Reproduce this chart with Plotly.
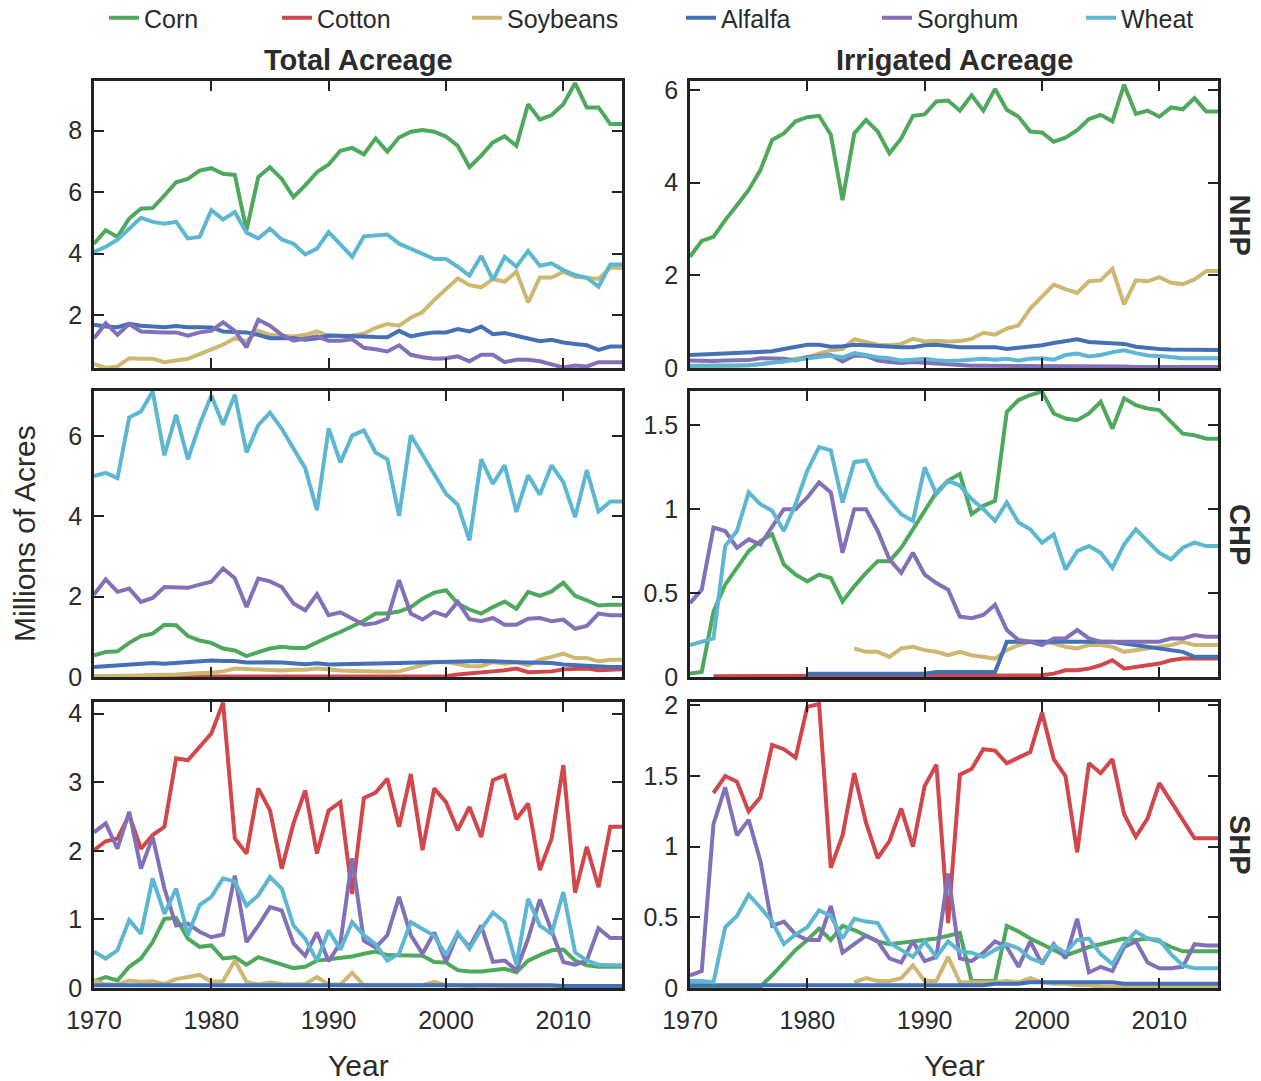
import plotly.graph_objects as go

# ---------------------------------------------------------------------------
# Data: millions of acres, one value per year 1970-2015 (None = not reported)
# ---------------------------------------------------------------------------
YEARS = list(range(1970, 2016))

CROPS = ["Corn", "Cotton", "Soybeans", "Alfalfa", "Sorghum", "Wheat"]
COLORS = {
    "Corn": "#4fa95c",
    "Cotton": "#d2474b",
    "Soybeans": "#cdb771",
    "Alfalfa": "#4470b8",
    "Sorghum": "#8271b8",
    "Wheat": "#5db7d2",
}

REGIONS = ["NHP", "CHP", "SHP"]
X_TICKS = [1970, 1980, 1990, 2000, 2010]

# ---- Northern High Plains, total acreage
nhp_total_corn = [4.32, 4.76, 4.54, 5.14, 5.46, 5.48, 5.89, 6.32, 6.43, 6.70, 6.78, 6.60, 6.56, 4.76, 6.49, 6.81,
                  6.43, 5.84, 6.22, 6.65, 6.90, 7.35, 7.44, 7.23, 7.75, 7.32, 7.78, 7.97, 8.02, 7.97, 7.81, 7.51,
                  6.81, 7.19, 7.62, 7.82, 7.51, 8.86, 8.36, 8.51, 8.86, 9.55, 8.76, 8.76, 8.22, 8.22]
nhp_total_soybeans = [0.40, 0.27, 0.32, 0.59, 0.57, 0.57, 0.46, 0.51, 0.57, 0.72, 0.86, 1.03, 1.24, 1.14, 1.48, 1.35,
                      1.32, 1.30, 1.35, 1.46, 1.32, 1.33, 1.33, 1.39, 1.58, 1.70, 1.65, 1.91, 2.09, 2.49, 2.86, 3.19,
                      2.97, 2.90, 3.17, 3.08, 3.41, 2.41, 3.22, 3.22, 3.41, 3.24, 3.21, 3.17, 3.54, 3.54]
nhp_total_alfalfa = [1.68, 1.62, 1.60, 1.71, 1.65, 1.64, 1.60, 1.64, 1.60, 1.60, 1.59, 1.46, 1.43, 1.43, 1.35, 1.24,
                     1.24, 1.24, 1.19, 1.24, 1.33, 1.33, 1.32, 1.30, 1.28, 1.27, 1.48, 1.30, 1.38, 1.43, 1.43, 1.54,
                     1.46, 1.62, 1.37, 1.41, 1.32, 1.24, 1.14, 1.19, 1.10, 1.05, 1.01, 0.86, 0.97, 0.97]
nhp_total_sorghum = [1.24, 1.73, 1.35, 1.70, 1.46, 1.43, 1.43, 1.43, 1.32, 1.43, 1.48, 1.76, 1.48, 0.94, 1.84, 1.65,
                     1.35, 1.16, 1.24, 1.30, 1.16, 1.16, 1.21, 0.93, 0.88, 0.81, 1.01, 0.70, 0.62, 0.57, 0.59, 0.65,
                     0.49, 0.70, 0.70, 0.46, 0.54, 0.54, 0.49, 0.38, 0.29, 0.35, 0.32, 0.46, 0.46, 0.46]
nhp_total_wheat = [4.05, 4.22, 4.45, 4.81, 5.16, 5.03, 4.97, 5.03, 4.49, 4.54, 5.41, 5.11, 5.35, 4.68, 4.49, 4.81,
                   4.46, 4.32, 3.97, 4.16, 4.70, 4.30, 3.89, 4.56, 4.59, 4.62, 4.32, 4.16, 4.00, 3.82, 3.82, 3.57,
                   3.28, 3.92, 3.14, 3.89, 3.57, 4.08, 3.60, 3.68, 3.46, 3.30, 3.21, 2.92, 3.64, 3.64]

# ---- Northern High Plains, irrigated acreage
nhp_irr_corn = [2.40, 2.74, 2.83, 3.19, 3.51, 3.84, 4.27, 4.92, 5.06, 5.32, 5.41, 5.44, 5.03, 3.62, 5.06, 5.35,
                5.10, 4.63, 4.95, 5.44, 5.47, 5.75, 5.77, 5.55, 5.88, 5.55, 6.02, 5.57, 5.42, 5.10, 5.08, 4.88,
                4.97, 5.13, 5.37, 5.46, 5.32, 6.11, 5.48, 5.55, 5.42, 5.62, 5.58, 5.82, 5.53, 5.53]
nhp_irr_soybeans = [0.03, 0.03, 0.04, 0.05, 0.05, 0.06, 0.08, 0.10, 0.14, 0.20, 0.23, 0.31, 0.38, 0.41, 0.62, 0.56,
                    0.50, 0.49, 0.52, 0.63, 0.57, 0.59, 0.57, 0.58, 0.63, 0.76, 0.72, 0.85, 0.92, 1.28, 1.53, 1.80,
                    1.70, 1.62, 1.87, 1.89, 2.14, 1.37, 1.89, 1.87, 1.96, 1.84, 1.81, 1.91, 2.09, 2.09]
nhp_irr_alfalfa = [0.28, 0.29, 0.30, 0.31, 0.32, 0.34, 0.35, 0.36, 0.41, 0.45, 0.50, 0.50, 0.46, 0.47, 0.50, 0.49,
                   0.47, 0.45, 0.45, 0.45, 0.49, 0.50, 0.47, 0.45, 0.45, 0.46, 0.45, 0.41, 0.43, 0.47, 0.49, 0.54,
                   0.57, 0.62, 0.56, 0.54, 0.54, 0.52, 0.46, 0.43, 0.41, 0.40, 0.40, 0.39, 0.39, 0.39]
nhp_irr_sorghum = [0.16, 0.15, 0.15, 0.16, 0.16, 0.17, 0.21, 0.20, 0.20, 0.16, 0.23, 0.26, 0.28, 0.14, 0.27, 0.26,
                   0.16, 0.13, 0.11, 0.13, 0.11, 0.09, 0.07, 0.06, 0.05, 0.05, 0.05, 0.04, 0.04, 0.04, 0.04, 0.04,
                   0.03, 0.03, 0.03, 0.03, 0.03, 0.03, 0.02, 0.02, 0.02, 0.02, 0.02, 0.02, 0.02, 0.02]
nhp_irr_wheat = [0.05, 0.05, 0.05, 0.06, 0.06, 0.06, 0.08, 0.11, 0.16, 0.18, 0.21, 0.24, 0.27, 0.23, 0.32, 0.28,
                 0.23, 0.21, 0.16, 0.18, 0.20, 0.17, 0.15, 0.16, 0.18, 0.20, 0.18, 0.20, 0.16, 0.20, 0.21, 0.18,
                 0.28, 0.31, 0.25, 0.28, 0.34, 0.38, 0.32, 0.27, 0.26, 0.23, 0.21, 0.21, 0.21, 0.21]

# ---- Central High Plains, total acreage
chp_total_corn = [0.54, 0.62, 0.64, 0.85, 1.02, 1.08, 1.30, 1.29, 1.02, 0.91, 0.85, 0.71, 0.66, 0.52, 0.62, 0.71,
                  0.75, 0.72, 0.72, 0.87, 1.00, 1.12, 1.25, 1.40, 1.58, 1.58, 1.63, 1.74, 1.95, 2.10, 2.16, 1.83,
                  1.68, 1.58, 1.74, 1.88, 1.70, 2.12, 2.02, 2.13, 2.35, 2.02, 1.91, 1.78, 1.80, 1.80]
chp_total_cotton = [0.01, 0.01, 0.01, 0.01, 0.01, 0.01, 0.01, 0.01, 0.01, 0.01, 0.01, 0.01, 0.01, 0.01, 0.01, 0.01,
                    0.01, 0.01, 0.01, 0.01, 0.01, 0.01, 0.01, 0.01, 0.01, 0.01, 0.02, 0.02, 0.02, 0.02, 0.02, 0.06,
                    0.08, 0.11, 0.14, 0.17, 0.21, 0.12, 0.12, 0.14, 0.19, 0.21, 0.21, 0.17, 0.19, 0.19]
chp_total_soybeans = [0.02, 0.02, 0.03, 0.03, 0.04, 0.05, 0.05, 0.06, 0.08, 0.09, 0.11, 0.14, 0.21, 0.20, 0.18, 0.17,
                      0.16, 0.18, 0.18, 0.21, 0.18, 0.16, 0.15, 0.14, 0.13, 0.13, 0.14, 0.22, 0.31, 0.37, 0.37, 0.31,
                      0.27, 0.27, 0.37, 0.33, 0.37, 0.29, 0.43, 0.50, 0.58, 0.47, 0.47, 0.39, 0.43, 0.43]
chp_total_alfalfa = [0.25, 0.27, 0.30, 0.33, 0.35, 0.35, 0.33, 0.35, 0.39, 0.41, 0.41, 0.40, 0.40, 0.36, 0.37, 0.37,
                     0.36, 0.34, 0.32, 0.34, 0.31, 0.32, 0.32, 0.33, 0.34, 0.34, 0.35, 0.36, 0.37, 0.38, 0.38, 0.39,
                     0.41, 0.40, 0.39, 0.37, 0.37, 0.36, 0.36, 0.35, 0.31, 0.29, 0.27, 0.26, 0.25, 0.25]
chp_total_sorghum = [2.05, 2.43, 2.12, 2.20, 1.87, 1.97, 2.24, 2.22, 2.22, 2.30, 2.37, 2.70, 2.46, 1.74, 2.45, 2.38,
                     2.24, 1.83, 1.66, 2.06, 1.54, 1.61, 1.45, 1.30, 1.34, 1.45, 2.41, 1.58, 1.43, 1.62, 1.52, 1.87,
                     1.44, 1.39, 1.47, 1.30, 1.30, 1.45, 1.47, 1.39, 1.43, 1.20, 1.27, 1.58, 1.54, 1.54]
chp_total_wheat = [5.00, 5.08, 4.95, 6.46, 6.61, 7.11, 5.52, 6.53, 5.42, 6.28, 7.01, 6.28, 7.03, 5.59, 6.27, 6.58,
                   6.18, 5.68, 5.20, 4.15, 6.19, 5.34, 6.01, 6.14, 5.59, 5.42, 4.01, 6.02, 5.52, 5.06, 4.56, 4.29,
                   3.40, 5.42, 4.81, 5.27, 4.11, 5.02, 4.54, 5.27, 4.85, 3.98, 5.15, 4.12, 4.37, 4.37]

# ---- Central High Plains, irrigated acreage
chp_irr_corn = [0.02, 0.03, 0.39, 0.55, 0.65, 0.75, 0.81, 0.85, 0.67, 0.61, 0.57, 0.61, 0.59, 0.45, 0.54, 0.62,
                0.69, 0.69, 0.77, 0.88, 1.00, 1.10, 1.17, 1.21, 0.97, 1.02, 1.05, 1.58, 1.65, 1.68, 1.70, 1.57,
                1.54, 1.53, 1.57, 1.64, 1.48, 1.66, 1.62, 1.60, 1.59, 1.52, 1.45, 1.44, 1.42, 1.42]
chp_irr_cotton = [None, None, 0.005, 0.005, 0.005, 0.005, 0.005, 0.005, 0.005, 0.005, 0.005, 0.005, 0.005, 0.005,
                  0.005, 0.005, 0.005, 0.005, 0.005, 0.005, 0.005, 0.005, 0.005, 0.005, 0.005, 0.005, 0.005, 0.005,
                  0.005, 0.005, 0.01, 0.02, 0.04, 0.04, 0.05, 0.07, 0.10, 0.05, 0.06, 0.07, 0.08, 0.10, 0.11, 0.11,
                  0.11, 0.11]
chp_irr_soybeans = [None, None, None, None, None, None, None, None, None, None, None, None, None, None,
                    0.17, 0.15, 0.15, 0.12, 0.17, 0.18, 0.16, 0.15, 0.13, 0.15, 0.13, 0.12, 0.11, 0.16, 0.19, 0.21,
                    0.21, 0.20, 0.18, 0.17, 0.19, 0.19, 0.18, 0.15, 0.16, 0.17, 0.18, 0.19, 0.21, 0.19, 0.19, 0.19]
chp_irr_alfalfa = [None, None, None, None, None, None, None, None, None, None,
                   0.02, 0.02, 0.02, 0.02, 0.02, 0.02, 0.02, 0.02, 0.02, 0.02, 0.02, 0.03, 0.03, 0.03, 0.03, 0.03,
                   0.03, 0.21, 0.21, 0.21, 0.21, 0.21, 0.21, 0.21, 0.21, 0.21, 0.21, 0.20, 0.19, 0.18, 0.17, 0.16,
                   0.15, 0.12, 0.12, 0.12]
chp_irr_sorghum = [0.44, 0.52, 0.89, 0.87, 0.77, 0.82, 0.79, 0.90, 1.00, 1.00, 1.07, 1.16, 1.10, 0.74, 1.00, 1.00,
                   0.87, 0.70, 0.62, 0.74, 0.61, 0.56, 0.52, 0.36, 0.35, 0.37, 0.43, 0.28, 0.22, 0.21, 0.19, 0.23,
                   0.23, 0.28, 0.23, 0.21, 0.21, 0.21, 0.21, 0.21, 0.21, 0.23, 0.23, 0.25, 0.24, 0.24]
chp_irr_wheat = [0.19, 0.21, 0.23, 0.78, 0.87, 1.10, 1.03, 0.99, 0.87, 1.03, 1.23, 1.37, 1.35, 1.04, 1.28, 1.29,
                 1.14, 1.05, 0.97, 0.93, 1.25, 1.09, 1.17, 1.14, 1.06, 1.00, 0.93, 1.04, 0.92, 0.88, 0.80, 0.85,
                 0.64, 0.75, 0.78, 0.74, 0.65, 0.79, 0.88, 0.81, 0.74, 0.70, 0.77, 0.80, 0.78, 0.78]

# ---- Southern High Plains, total acreage
shp_total_corn = [0.10, 0.16, 0.11, 0.31, 0.43, 0.67, 1.01, 1.02, 0.72, 0.60, 0.62, 0.43, 0.45, 0.34, 0.45, 0.40,
                  0.35, 0.29, 0.31, 0.40, 0.42, 0.44, 0.46, 0.50, 0.53, 0.48, 0.48, 0.47, 0.47, 0.38, 0.37, 0.26,
                  0.24, 0.24, 0.26, 0.28, 0.23, 0.40, 0.48, 0.55, 0.56, 0.40, 0.33, 0.31, 0.31, 0.31]
shp_total_cotton = [2.01, 2.14, 2.18, 2.52, 2.03, 2.23, 2.35, 3.35, 3.32, 3.51, 3.71, 4.16, 2.18, 1.96, 2.91, 2.59,
                    1.74, 2.40, 2.88, 1.96, 2.59, 2.71, 1.37, 2.77, 2.85, 3.05, 2.35, 3.12, 2.01, 2.91, 2.71, 2.30,
                    2.64, 2.20, 3.03, 3.10, 2.46, 2.69, 1.72, 2.18, 3.25, 1.39, 2.06, 1.47, 2.35, 2.35]
shp_total_soybeans = [0.11, 0.05, 0.05, 0.11, 0.09, 0.10, 0.06, 0.13, 0.16, 0.19, 0.09, 0.10, 0.40, 0.09, 0.05, 0.08,
                      0.06, 0.05, 0.06, 0.16, 0.05, 0.05, 0.22, 0.04, 0.04, 0.04, 0.04, 0.05, 0.04, 0.09, 0.04, 0.04,
                      0.03, 0.04, 0.03, 0.03, 0.03, 0.02, 0.02, 0.02, 0.02, 0.02, 0.02, 0.02, 0.02, 0.02]
shp_total_alfalfa = [0.04, 0.04, 0.04, 0.05, 0.05, 0.05, 0.05, 0.05, 0.05, 0.05, 0.04, 0.04, 0.04, 0.04, 0.05, 0.05,
                     0.05, 0.05, 0.04, 0.04, 0.04, 0.04, 0.04, 0.04, 0.04, 0.04, 0.04, 0.04, 0.04, 0.04, 0.04, 0.04,
                     0.04, 0.04, 0.04, 0.04, 0.04, 0.04, 0.04, 0.04, 0.03, 0.03, 0.03, 0.03, 0.03, 0.03]
shp_total_sorghum = [2.27, 2.40, 2.03, 2.57, 1.74, 2.20, 1.45, 0.91, 0.94, 0.82, 0.74, 0.78, 1.64, 0.67, 0.91, 1.18,
                     1.13, 0.65, 0.47, 0.81, 0.39, 0.66, 1.89, 0.69, 0.59, 0.77, 1.33, 0.77, 0.50, 0.81, 0.38, 0.79,
                     0.60, 0.91, 0.38, 0.40, 0.26, 0.72, 1.29, 0.84, 0.38, 0.34, 0.40, 0.87, 0.73, 0.73]
shp_total_wheat = [0.53, 0.43, 0.55, 0.99, 0.79, 1.60, 1.08, 1.45, 0.77, 1.21, 1.33, 1.60, 1.55, 1.20, 1.35, 1.62,
                   1.45, 0.91, 0.72, 0.40, 0.84, 0.56, 0.96, 0.77, 0.64, 0.40, 0.50, 0.96, 0.86, 0.76, 0.48, 0.81,
                   0.57, 0.86, 1.10, 0.96, 0.34, 1.30, 0.91, 0.79, 1.40, 0.52, 0.40, 0.34, 0.33, 0.33]

# ---- Southern High Plains, irrigated acreage
shp_irr_corn = [0.00, 0.00, 0.00, 0.00, 0.00, 0.00, 0.01, 0.09, 0.18, 0.27, 0.34, 0.42, 0.34, 0.44, 0.41, 0.37,
                0.33, 0.31, 0.32, 0.33, 0.34, 0.35, 0.37, 0.39, 0.05, 0.05, 0.05, 0.44, 0.40, 0.35, 0.31, 0.27,
                0.23, 0.26, 0.29, 0.31, 0.33, 0.35, 0.34, 0.35, 0.33, 0.29, 0.26, 0.26, 0.26, 0.26]
shp_irr_cotton = [None, None, 1.38, 1.50, 1.46, 1.25, 1.35, 1.72, 1.69, 1.63, 1.99, 2.01, 0.85, 1.08, 1.52, 1.17,
                  0.92, 1.04, 1.27, 1.00, 1.43, 1.58, 0.46, 1.51, 1.55, 1.69, 1.68, 1.59, 1.63, 1.67, 1.95, 1.62,
                  1.50, 0.96, 1.59, 1.52, 1.62, 1.23, 1.07, 1.20, 1.45, 1.32, 1.19, 1.06, 1.06, 1.06]
shp_irr_soybeans = [None, None, None, None, None, None, None, None, None, None, None, None, None, None,
                    0.04, 0.07, 0.05, 0.05, 0.07, 0.16, 0.05, 0.05, 0.22, 0.04, 0.04, 0.04, 0.04, 0.05, 0.04, 0.07,
                    0.04, 0.03, 0.03, 0.02, 0.02, 0.01, 0.01, 0.01, 0.01, 0.01, 0.01, 0.01, 0.01, 0.01, 0.01, 0.01]
shp_irr_alfalfa = [0.02, 0.02, 0.02, 0.02, 0.02, 0.02, 0.02, 0.02, 0.02, 0.02, 0.02, 0.02, 0.02, 0.02, 0.02, 0.02,
                   0.02, 0.02, 0.02, 0.02, 0.02, 0.02, 0.02, 0.02, 0.02, 0.02, 0.03, 0.03, 0.03, 0.04, 0.04, 0.04,
                   0.04, 0.04, 0.04, 0.04, 0.04, 0.03, 0.03, 0.03, 0.03, 0.03, 0.03, 0.03, 0.03, 0.03]
shp_irr_sorghum = [0.09, 0.12, 1.16, 1.42, 1.08, 1.19, 0.90, 0.44, 0.47, 0.38, 0.34, 0.34, 0.58, 0.25, 0.31, 0.37,
                   0.33, 0.21, 0.18, 0.33, 0.19, 0.22, 0.81, 0.21, 0.19, 0.25, 0.33, 0.29, 0.15, 0.33, 0.17, 0.31,
                   0.21, 0.49, 0.11, 0.15, 0.12, 0.29, 0.33, 0.18, 0.14, 0.14, 0.15, 0.31, 0.30, 0.30]
shp_irr_wheat = [0.05, 0.05, 0.04, 0.43, 0.51, 0.66, 0.57, 0.47, 0.31, 0.38, 0.43, 0.55, 0.51, 0.35, 0.49, 0.47,
                 0.46, 0.32, 0.27, 0.22, 0.33, 0.22, 0.33, 0.26, 0.25, 0.22, 0.27, 0.31, 0.28, 0.21, 0.18, 0.30,
                 0.25, 0.34, 0.35, 0.24, 0.17, 0.31, 0.40, 0.35, 0.34, 0.24, 0.16, 0.14, 0.14, 0.14]

# y-axis ticks for each panel (row-major: total, irrigated)
nhp_total_yticks = [2, 4, 6, 8]
nhp_irr_yticks = [0, 2, 4, 6]
chp_total_yticks = [0, 2, 4, 6]
chp_irr_yticks = [0, 0.5, 1, 1.5]
shp_total_yticks = [0, 1, 2, 3, 4]
shp_irr_yticks = [0, 0.5, 1, 1.5, 2]

# ---------------------------------------------------------------------------
# Panel table built from the lists above
# ---------------------------------------------------------------------------
PANELS = [
    dict(series={"Corn": nhp_total_corn, "Soybeans": nhp_total_soybeans, "Alfalfa": nhp_total_alfalfa,
                 "Sorghum": nhp_total_sorghum, "Wheat": nhp_total_wheat},
         yticks=nhp_total_yticks, yrange=[0.27, 9.62]),
    dict(series={"Corn": nhp_irr_corn, "Soybeans": nhp_irr_soybeans, "Alfalfa": nhp_irr_alfalfa,
                 "Sorghum": nhp_irr_sorghum, "Wheat": nhp_irr_wheat},
         yticks=nhp_irr_yticks, yrange=[0, 6.19]),
    dict(series={"Corn": chp_total_corn, "Cotton": chp_total_cotton, "Soybeans": chp_total_soybeans,
                 "Alfalfa": chp_total_alfalfa, "Sorghum": chp_total_sorghum, "Wheat": chp_total_wheat},
         yticks=chp_total_yticks, yrange=[0, 7.12]),
    dict(series={"Corn": chp_irr_corn, "Cotton": chp_irr_cotton, "Soybeans": chp_irr_soybeans,
                 "Alfalfa": chp_irr_alfalfa, "Sorghum": chp_irr_sorghum, "Wheat": chp_irr_wheat},
         yticks=chp_irr_yticks, yrange=[0, 1.704]),
    dict(series={"Corn": shp_total_corn, "Cotton": shp_total_cotton, "Soybeans": shp_total_soybeans,
                 "Alfalfa": shp_total_alfalfa, "Sorghum": shp_total_sorghum, "Wheat": shp_total_wheat},
         yticks=shp_total_yticks, yrange=[0, 4.17]),
    dict(series={"Corn": shp_irr_corn, "Cotton": shp_irr_cotton, "Soybeans": shp_irr_soybeans,
                 "Alfalfa": shp_irr_alfalfa, "Sorghum": shp_irr_sorghum, "Wheat": shp_irr_wheat},
         yticks=shp_irr_yticks, yrange=[0, 2.024]),
]

# ---------------------------------------------------------------------------
# Layout geometry (paper fractions of a 1261 x 1081 page)
# ---------------------------------------------------------------------------
W, H = 1261, 1081
COL_X = [(94 / W, 622 / W), (690 / W, 1218 / W)]
ROW_Y = [(1 - 368 / H, 1 - 81 / H), (1 - 677 / H, 1 - 391 / H), (1 - 988 / H, 1 - 702 / H)]

FONT = "Liberation Sans, Arial, Helvetica, sans-serif"
INK = "#2b2b2b"
FRAME = "#222222"

# one single-entry legend per crop, spread along the top edge
LEGEND_TEXT_X = {"Corn": 145, "Cotton": 318, "Soybeans": 508, "Alfalfa": 722, "Sorghum": 918, "Wheat": 1122}

fig = go.Figure()
shown = set()

for i, panel in enumerate(PANELS):
    idx = i + 1
    row, col = divmod(i, 2)
    xa = "x" if idx == 1 else f"x{idx}"
    ya = "y" if idx == 1 else f"y{idx}"
    for crop in CROPS:
        if crop not in panel["series"]:
            continue
        leg_id = CROPS.index(crop) + 1
        fig.add_trace(go.Scatter(
            x=YEARS, y=panel["series"][crop], mode="lines", name=crop,
            line=dict(color=COLORS[crop], width=4),
            xaxis=xa, yaxis=ya,
            legend="legend" if leg_id == 1 else f"legend{leg_id}",
            showlegend=crop not in shown,
            connectgaps=False,
        ))
        shown.add(crop)

    axis_common = dict(
        showline=True, linecolor=FRAME, linewidth=2.6, mirror="ticks",
        ticks="inside", ticklen=10, tickwidth=2, tickcolor=FRAME,
        showgrid=False, zeroline=False, automargin=False,
        tickfont=dict(family=FONT, size=25, color=INK),
    )
    fig.layout[f"xaxis{'' if idx == 1 else idx}"] = dict(
        axis_common, domain=COL_X[col], anchor=ya, range=[1970, 2015],
        tickvals=X_TICKS, showticklabels=(row == 2), ticklabelstandoff=8,
    )
    fig.layout[f"yaxis{'' if idx == 1 else idx}"] = dict(
        axis_common, domain=ROW_Y[row], anchor=xa, range=panel["yrange"],
        tickvals=panel["yticks"], ticklabelstandoff=4,
    )

# legends
for k, crop in enumerate(CROPS):
    key = "legend" if k == 0 else f"legend{k + 1}"
    fig.layout[key] = dict(
        x=(LEGEND_TEXT_X[crop] - 41) / W, xanchor="left",
        y=1 - 18 / H, yanchor="middle",
        orientation="h", bgcolor="rgba(0,0,0,0)", borderwidth=0,
        font=dict(family=FONT, size=25, color=INK),
    )

annotations = []
# column titles
for c, title in enumerate(["Total Acreage", "Irrigated Acreage"]):
    annotations.append(dict(
        text=f"<b>{title}</b>", x=sum(COL_X[c]) / 2, y=1 - 60 / H,
        xref="paper", yref="paper", showarrow=False,
        font=dict(family=FONT, size=29, color=INK), xanchor="center", yanchor="middle",
    ))
# region labels on the right
for r, region in enumerate(REGIONS):
    annotations.append(dict(
        text=f"<b>{region}</b>", x=1240 / W, y=sum(ROW_Y[r]) / 2,
        xref="paper", yref="paper", showarrow=False, textangle=90,
        font=dict(family=FONT, size=29, color=INK), xanchor="center", yanchor="middle",
    ))
# shared axis titles
annotations.append(dict(
    text="Millions of Acres", x=25 / W, y=sum(ROW_Y[1]) / 2,
    xref="paper", yref="paper", showarrow=False, textangle=-90,
    font=dict(family=FONT, size=30, color=INK), xanchor="center", yanchor="middle",
))
for c in range(2):
    annotations.append(dict(
        text="Year", x=sum(COL_X[c]) / 2, y=1 - 1065 / H,
        xref="paper", yref="paper", showarrow=False,
        font=dict(family=FONT, size=30, color=INK), xanchor="center", yanchor="middle",
    ))

fig.update_layout(
    width=W, height=H,
    margin=dict(l=0, r=0, t=0, b=0, autoexpand=False),
    paper_bgcolor="white", plot_bgcolor="white",
    annotations=annotations,
    font=dict(family=FONT, color=INK),
)

fig.write_html("out.html")
